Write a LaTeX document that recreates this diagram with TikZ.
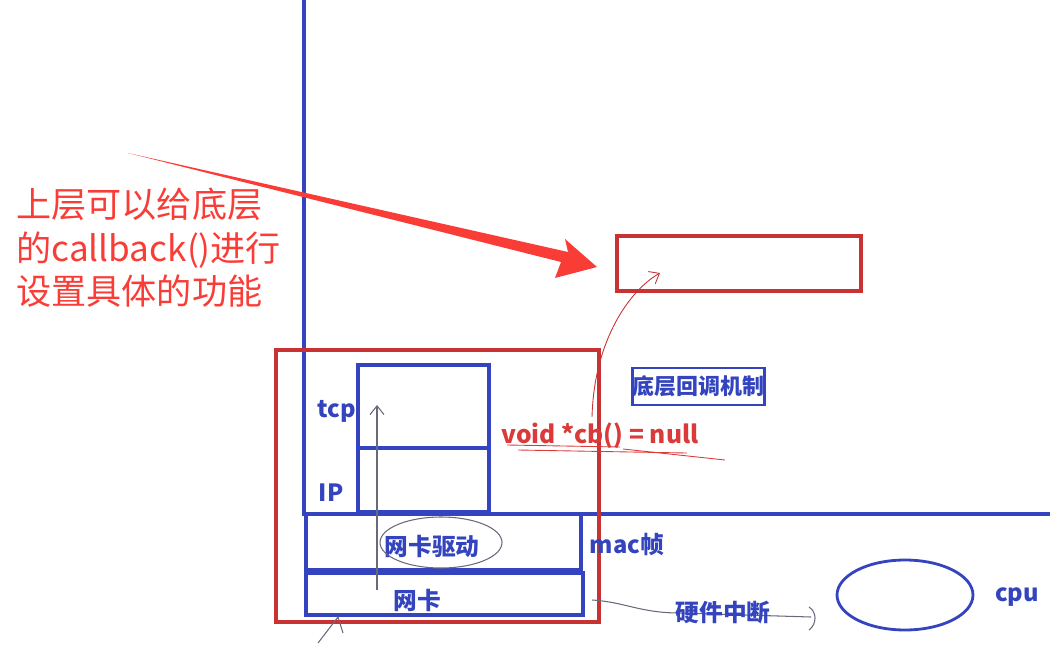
\documentclass[tikz,border=0pt]{standalone}
\usepackage{fontspec}
\setmainfont{Noto Sans CJK SC}
\usepackage{xcolor}
\usetikzlibrary{arrows.meta,positioning,shapes.geometric}
\definecolor{penblue}{RGB}{52,68,190}
\definecolor{boxred}{RGB}{200,50,50}
\definecolor{cbred}{RGB}{218,58,58}
\definecolor{inkred}{RGB}{250,60,55}
\definecolor{pencil}{RGB}{105,105,125}

\begin{document}
\begin{tikzpicture}[x=0.02cm, y=-0.02cm, >={Straight Barb[length=5pt,width=8pt]},
  bluebox/.style={draw=penblue, line width=1.9pt, inner sep=0pt, outer sep=0pt},
  redbox/.style={draw=boxred, line width=1.9pt, inner sep=0pt},
  lbl/.style={text=penblue, font=\bfseries\fontsize{13.5}{16}\selectfont, inner sep=0pt},
  pen/.style={draw=pencil, line width=0.6pt}]
\useasboundingbox (0,0) rectangle (1050,645);
% the two big blue strokes
\coordinate (top) at (304,0);
\coordinate (corner) at (304,514);
\coordinate (rightend) at (1050,514);
\draw[draw=penblue, line width=1.9pt] (top) -- (corner) -- (rightend);

% protocol stack
\node[redbox, minimum width=6.46cm, minimum height=5.44cm] (stack) at (437.5,486) {};
\node[bluebox, minimum width=2.62cm, minimum height=1.66cm] (tcpbox) at (423.5,406.5) {};
\node[bluebox, minimum width=2.62cm, minimum height=1.28cm, below=0pt of tcpbox] (ipbox) {};
\node[bluebox, minimum width=5.5cm, minimum height=1.12cm] (driver) at (443.5,542) {};
\node[bluebox, minimum width=5.54cm, minimum height=0.84cm] (nic) at (444.5,594) {};
\node[lbl] (tcp) at (337,411) {tcp};
\node[lbl] (ip) at (331,493) {IP};
\node[lbl] (drvtext) at (432,546) {网卡驱动};
\node[lbl] (nictext) at (417,600) {网卡};
\node[lbl] (mac) at (627,544) {mac帧};
\draw[pen] (441,542.5) ellipse [x radius=61, y radius=25.5];
\coordinate (upfrom) at (377,590);
\coordinate (upto) at (377,405);
\draw[pen,->] (upfrom) -- (upto);
\coordinate (wirein) at (318,643);
\coordinate (wiretip) at (338,617);
\draw[pen] (wirein) -- (wiretip) -- ++(5,16);

% callback side
\node[redbox, minimum width=4.88cm, minimum height=1.1cm] (target) at (739,263.5) {};
\node[bluebox, line width=1.4pt, minimum width=2.62cm, minimum height=0.74cm, lbl, font=\bfseries\fontsize{12.5}{15}\selectfont] (cbmech) at (698.5,386.5) {底层回调机制};
\node[text=cbred, font=\bfseries\fontsize{14}{17}\selectfont, inner sep=0pt] (cbcode) at (600,436) {void *cb() = null};
\draw[draw=cbred, line width=0.5pt] (507,445) -- (620,447);
\draw[draw=cbred, line width=0.5pt] (518,450) -- (687,453);
\draw[draw=cbred, line width=0.5pt] (623,449) -- (725,460);
\coordinate (cbup) at (592,417);
\coordinate (cbend) at (660,273);
\draw[draw=boxred, line width=0.5pt, ->] (cbup) .. controls (594,340) and (630,290) .. (cbend);

% note and its arrow
\node[text=inkred, align=left, anchor=north west, inner sep=0pt, font=\fontsize{20}{24.5}\selectfont] (note) at (16,188) {上层可以给底层\\的callback()进行\\设置具体的功能};
\coordinate (tail) at (128,153);
\coordinate (tip) at (597,267);
\fill[inkred] (tail) -- (568,252) -- (565,239) -- (tip) -- (555,278) -- (561,262) -- cycle;

% cpu and interrupt
\node[draw=penblue, line width=1.6pt, ellipse, minimum width=2.72cm, minimum height=1.4cm] (cpu) at (905,595) {};
\node[lbl] (cpulabel) at (1017,597) {cpu};
\coordinate (irqfrom) at (592,600);
\coordinate (irqto) at (811,617);
\draw[pen] (irqfrom) .. controls (625,602) and (640,613) .. (680,613) -- (irqto);
\draw[pen] (809,607) .. controls (817,612) and (817,624) .. (809,630);
\node[lbl] (irq) at (723,613) {硬件中断};
\end{tikzpicture}
\end{document}
